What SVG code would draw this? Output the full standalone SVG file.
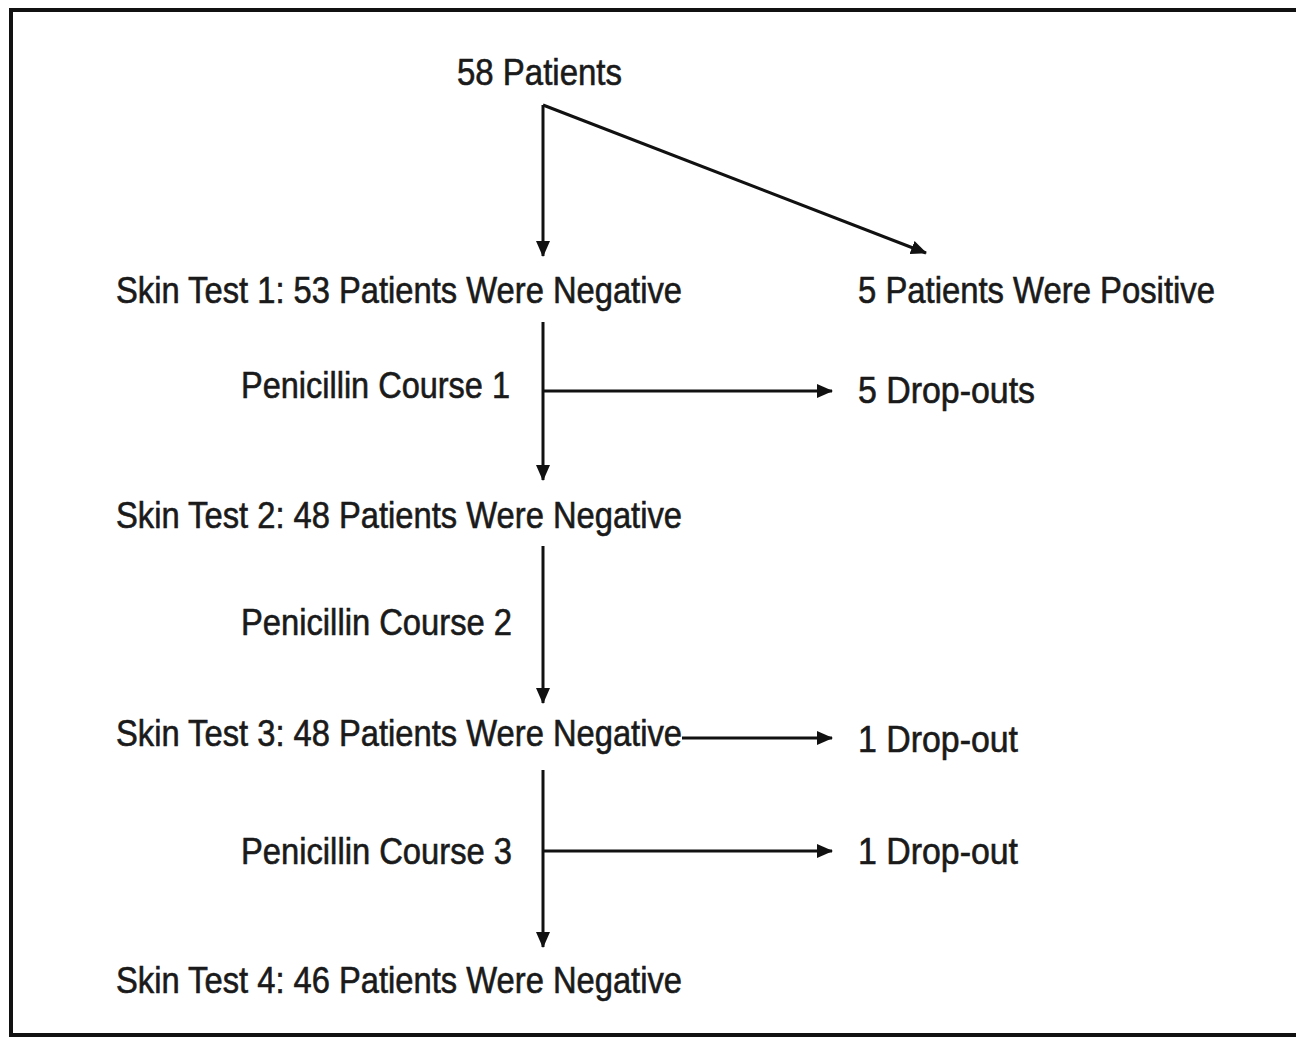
<svg xmlns="http://www.w3.org/2000/svg" width="1296" height="1044" viewBox="0 0 1296 1044">
<style>
text{font-family:"Liberation Sans",Arial,sans-serif;font-size:36px;fill:#1a1a1a;stroke:#1a1a1a;stroke-width:0.6;}
.ln{stroke:#111;stroke-width:3;fill:none;}
</style>
<defs>
<marker id="ah" markerWidth="16" markerHeight="14" refX="15" refY="7" orient="auto" markerUnits="userSpaceOnUse">
<path d="M0,0 L16,7 L0,14 Z" fill="#111"/>
</marker>
</defs>
<rect width="1296" height="1044" fill="#fff"/>
<path d="M1300,10 L11,10 L11,1035 L1300,1035" stroke="#111" stroke-width="4" fill="none"/>
<g id="connectors">
<path class="ln" d="M543,105 L543,256" marker-end="url(#ah)"/>
<path class="ln" d="M543,105 L926,253" marker-end="url(#ah)"/>
<path class="ln" d="M543,322 L543,480" marker-end="url(#ah)"/>
<path class="ln" d="M543,391 L832,391" marker-end="url(#ah)"/>
<path class="ln" d="M543,546 L543,703" marker-end="url(#ah)"/>
<path class="ln" d="M682,738 L832,738" marker-end="url(#ah)"/>
<path class="ln" d="M543,770 L543,947" marker-end="url(#ah)"/>
<path class="ln" d="M543,851 L832,851" marker-end="url(#ah)"/>
</g>
<g id="n-start"><text x="457" y="85" textLength="165" lengthAdjust="spacingAndGlyphs">58 Patients</text></g>
<g id="n-test1"><text x="116" y="303" textLength="566" lengthAdjust="spacingAndGlyphs">Skin Test 1: 53 Patients Were Negative</text></g>
<g id="n-positive"><text x="858" y="303" textLength="357" lengthAdjust="spacingAndGlyphs">5 Patients Were Positive</text></g>
<g id="n-course1"><text x="241" y="398" textLength="269" lengthAdjust="spacingAndGlyphs">Penicillin Course 1</text></g>
<g id="n-drop1"><text x="858" y="403" textLength="177" lengthAdjust="spacingAndGlyphs">5 Drop-outs</text></g>
<g id="n-test2"><text x="116" y="528" textLength="566" lengthAdjust="spacingAndGlyphs">Skin Test 2: 48 Patients Were Negative</text></g>
<g id="n-course2"><text x="241" y="635" textLength="271" lengthAdjust="spacingAndGlyphs">Penicillin Course 2</text></g>
<g id="n-test3"><text x="116" y="746" textLength="566" lengthAdjust="spacingAndGlyphs">Skin Test 3: 48 Patients Were Negative</text></g>
<g id="n-drop2"><text x="858" y="752" textLength="160" lengthAdjust="spacingAndGlyphs">1 Drop-out</text></g>
<g id="n-course3"><text x="241" y="864" textLength="271" lengthAdjust="spacingAndGlyphs">Penicillin Course 3</text></g>
<g id="n-drop3"><text x="858" y="864" textLength="160" lengthAdjust="spacingAndGlyphs">1 Drop-out</text></g>
<g id="n-test4"><text x="116" y="993" textLength="566" lengthAdjust="spacingAndGlyphs">Skin Test 4: 46 Patients Were Negative</text></g>
</svg>
